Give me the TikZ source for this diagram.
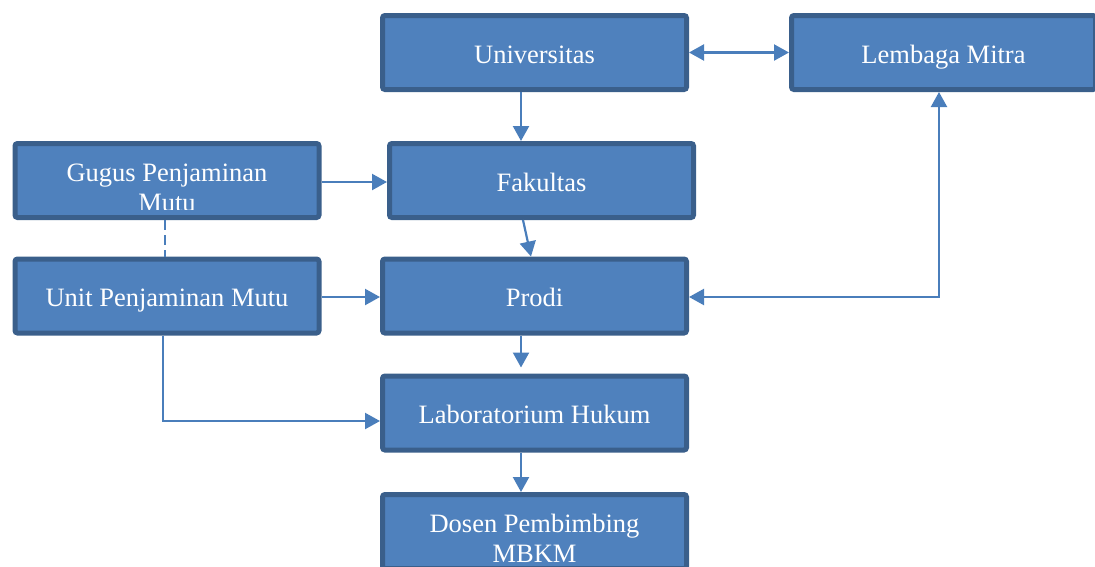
\documentclass[tikz,border=0pt]{standalone}
\usepackage{fontspec}
\setmainfont{Liberation Serif}
\usepackage{tikz}
\usetikzlibrary{arrows.meta}

\definecolor{boxfill}{HTML}{4F81BD}
\definecolor{boxline}{HTML}{3A5F8B}
\definecolor{linkcol}{HTML}{4A7EBB}

\begin{document}
\begin{tikzpicture}[x=1pt, y=-1pt,
        unitbox/.style={draw=boxline, fill=boxfill, line width=5pt, rounded corners=2.5pt,
            minimum width=304pt, minimum height=74pt, inner sep=0pt},
        boxtext/.style={text=white, font=\rmfamily\fontsize{26.5}{30}\selectfont, inner sep=0pt, align=center},
        onetext/.style={boxtext, text height=22pt, text depth=1pt},
        link/.style={draw=linkcol, line width=2.2pt, -{Triangle[length=15pt,width=16pt]}},
        both/.style={link, {Triangle[length=15pt,width=16pt]}-{Triangle[length=15pt,width=16pt]}}]
    \useasboundingbox (0,0) rectangle (1095,566);

    \node[unitbox, onetext] (univ) at (534.5,52.5) {Universitas};
    \node[unitbox, onetext] (mitra) at (943.5,52.5) {Lembaga Mitra};
    \node[unitbox] (gugus) at (167,180.5) {};
    \node[unitbox, onetext] (fak) at (541.5,180.5) {Fakultas};
    \node[unitbox, onetext] (unit) at (167,296) {Unit Penjaminan Mutu};
    \node[unitbox, onetext] (prodi) at (534.5,296) {Prodi};
    \node[unitbox, onetext] (lab) at (534.5,413) {Laboratorium Hukum};
    \node[unitbox] (dosen) at (534.5,531.5) {};

    % text that runs past its box
    \begin{scope}
        \clip (gugus.north west) rectangle ([yshift=11pt]gugus.south east);
        \node[boxtext, anchor=base] (gugustext) at ([yshift=-30.5pt]gugus.center) {Gugus Penjaminan\\Mutu};
    \end{scope}
    \begin{scope}
        \clip (dosen.north west) rectangle (dosen.south east);
        \node[boxtext, anchor=base] (dosentext) at ([yshift=-30.5pt]dosen.center) {Dosen Pembimbing\\MBKM};
    \end{scope}

    \draw[both] (univ.east) -- (mitra.west);
    \draw[link] ([xshift=-13.5pt]univ.south) -- ([xshift=-13.5pt]univ.south |- fak.north);
    \draw[link] ([yshift=-1.5pt]gugus.east) -- ([yshift=-1.5pt]fak.west);
    \draw[link] ([xshift=-18.5pt]fak.south) -- ([xshift=-3.5pt]prodi.north);
    \draw[draw=linkcol, line width=2.2pt, dash pattern=on 10pt off 5pt] ([xshift=-2pt]gugus.south) -- ([xshift=-2pt]unit.north);
    \draw[link] ([yshift=-1pt]unit.east) -- ([yshift=-1pt]prodi.west);
    \draw[both] ([yshift=-1pt]prodi.east) -| ([xshift=-4.5pt]mitra.south);
    \draw[link, shorten >=6pt] ([xshift=-13.5pt]prodi.south) -- ([xshift=-13.5pt]prodi.south |- lab.north);
    \draw[link] ([xshift=-4pt]unit.south) |- ([yshift=-8pt]lab.west);
    \draw[link] ([xshift=-13.5pt]lab.south) -- ([xshift=-13.5pt]lab.south |- dosen.north);
\end{tikzpicture}
\end{document}
